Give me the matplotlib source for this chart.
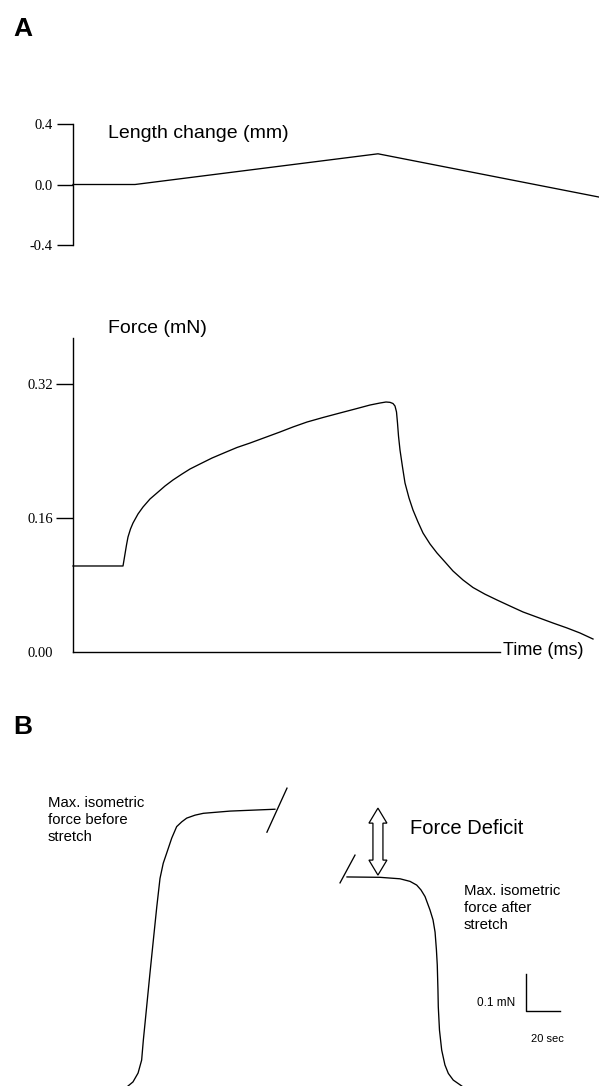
import numpy as np
import matplotlib.pyplot as plt
import matplotlib.patches as mpatches

# Panel A, top: length change (mm) vs time
len_t = [0, 62, 305, 526]
len_mm = [0.0, 0.0, 0.203, -0.083]
len_ticks = [-0.4, 0.0, 0.4]
len_ticklabels = ['-0.4', '0.0', '0.4']

# Panel A, bottom: force (mN) vs time
force_t = [0, 50, 51, 52, 53.5, 55, 57.5, 60, 65, 70, 77, 84, 92, 100, 109, 117,
           127, 139, 152, 164, 177, 192, 207, 220, 234, 250, 267, 282, 297, 307,
           313, 317, 320, 322, 323.5, 324.5, 325.5, 327, 329.5, 332, 336, 340,
           345, 350, 357, 364, 372, 380, 390, 400, 412, 424, 437, 450, 465, 480,
           494, 507, 520]
force_mn = [0.1027, 0.1027, 0.1098, 0.1170, 0.1278, 0.1373, 0.1469, 0.1540,
            0.1648, 0.1731, 0.1827, 0.1899, 0.1982, 0.2054, 0.2125, 0.2185,
            0.2245, 0.2316, 0.2382, 0.2442, 0.2495, 0.2561, 0.2627, 0.2687,
            0.2746, 0.2800, 0.2854, 0.2901, 0.2949, 0.2973, 0.2985, 0.2981,
            0.2967, 0.2937, 0.2866, 0.2734, 0.2579, 0.2412, 0.2209, 0.2018,
            0.1839, 0.1695, 0.1552, 0.1421, 0.1290, 0.1182, 0.1075, 0.0967,
            0.0860, 0.0770, 0.0690, 0.0621, 0.0549, 0.0478, 0.0412, 0.0346,
            0.0287, 0.0227, 0.0155]
force_ticks = [0.0, 0.16, 0.32]
force_ticklabels = ['0.00', '0.16', '0.32']

# Panel B: isometric force traces (sec, mN)
before_t = [1.2, 4.1, 7.1, 9.2, 10.2, 11.2, 14.1, 16.1, 18.1, 20.0, 21.9, 23.9,
            26.9, 29.8, 32.8, 35.7, 40.6, 45.5, 61.2, 87.6]
before_f = [0.0, 0.011, 0.035, 0.070, 0.124, 0.170, 0.305, 0.395, 0.484, 0.561,
            0.602, 0.629, 0.670, 0.701, 0.714, 0.724, 0.732, 0.737, 0.743, 0.748]
after_t = [130.0, 149.4, 161.2, 167.1, 171.0, 173.5, 175.9, 178.8, 180.6, 181.8,
           182.6, 183.1, 183.5, 183.7, 184.4, 185.7, 187.6, 189.6, 192.5, 197.5]
after_f = [0.565, 0.564, 0.560, 0.553, 0.543, 0.530, 0.512, 0.476, 0.449, 0.416,
           0.368, 0.327, 0.260, 0.214, 0.151, 0.097, 0.057, 0.034, 0.016, 0.0]
break_before_t = [82.9, 94.7]
break_before_f = [0.686, 0.805]
break_after_t = [125.9, 134.7]
break_after_f = [0.549, 0.624]
deficit_t = 148.2
deficit_f = [0.570, 0.751]
scale_t0, scale_f0 = 235.3, 0.203
scale_sec, scale_mn = 20, 0.1

W, H = 599, 1086
fig = plt.figure(figsize=(W / 100, H / 100), dpi=100)
sans = 'Liberation Sans'
serif = 'Liberation Serif'
lw = 0.95


def fx(px):
    return px / W


def fy(py):
    return 1 - py / H


# --- length change ---
ax1 = fig.add_axes([fx(73), fy(245), 526 / W, 121 / H])
ax1.plot(len_t, len_mm, color='black', lw=lw, clip_on=False)
ax1.set_xlim(0, 526)
ax1.set_ylim(-0.4, 0.4)
for s in ['top', 'right', 'bottom']:
    ax1.spines[s].set_visible(False)
ax1.spines['left'].set_linewidth(1.0)
ax1.set_xticks([])
ax1.set_yticks(len_ticks)
ax1.set_yticklabels(len_ticklabels, fontfamily=serif, fontsize=10.5)
ax1.tick_params(axis='y', length=11.5, width=1.0, direction='out', pad=3)
ax1.patch.set_visible(False)

# --- force ---
ymax = 0.16 * 314 / 134
ax2 = fig.add_axes([fx(73), fy(652), 526 / W, 314 / H])
ax2.plot(force_t, force_mn, color='black', lw=lw, clip_on=False)
ax2.set_xlim(0, 526)
ax2.set_ylim(0, ymax)
for s in ['top', 'right']:
    ax2.spines[s].set_visible(False)
ax2.spines['left'].set_linewidth(1.0)
ax2.spines['bottom'].set_linewidth(1.0)
ax2.spines['bottom'].set_bounds(0, 427)
ax2.set_xticks([])
ax2.set_yticks(force_ticks)
ax2.set_yticklabels(force_ticklabels, fontfamily=serif, fontsize=10.5)
ax2.tick_params(axis='y', length=12, width=1.0, direction='out', pad=2.5)
ax2.yaxis.get_major_ticks()[0].tick1line.set_visible(False)
ax2.patch.set_visible(False)

# --- panel B ---
ax3 = fig.add_axes([0, 0, 1, 326 / H])
ax3.set_xlim(-126 * 20 / 34, 473 * 20 / 34)
ax3.set_ylim(0, 326 * 0.1 / 37)
ax3.axis('off')
ax3.plot(before_t, before_f, color='black', lw=lw, clip_on=False)
ax3.plot(after_t, after_f, color='black', lw=lw, clip_on=False)
ax3.plot(break_before_t, break_before_f, color='black', lw=lw)
ax3.plot(break_after_t, break_after_f, color='black', lw=lw)
ax3.plot([scale_t0, scale_t0, scale_t0 + scale_sec],
         [scale_f0 + scale_mn, scale_f0, scale_f0], color='black', lw=1.0)

# hollow double arrow for the force deficit
hh, sh, hl = 9 * 20 / 34, 5 * 20 / 34, 15 * 0.1 / 37
cx, yb, yt = deficit_t, deficit_f[0], deficit_f[1]
verts = [(cx, yt), (cx - hh, yt - hl), (cx - sh, yt - hl), (cx - sh, yb + hl),
         (cx - hh, yb + hl), (cx, yb), (cx + hh, yb + hl), (cx + sh, yb + hl),
         (cx + sh, yt - hl), (cx + hh, yt - hl)]
ax3.add_patch(mpatches.Polygon(verts, closed=True, fc='white', ec='black', lw=0.9))

# --- text ---
fig.text(fx(13), fy(36), 'A', family=sans, fontsize=19, fontweight='bold', va='baseline')
fig.text(fx(13), fy(734), 'B', family=sans, fontsize=19, fontweight='bold', va='baseline')
fig.text(fx(108), fy(138), 'Length change (mm)', family=sans, fontsize=14, va='baseline')
fig.text(fx(108), fy(333), 'Force (mN)', family=sans, fontsize=14, va='baseline')
fig.text(fx(503), fy(655), 'Time (ms)', family=sans, fontsize=13, va='baseline')
fig.text(fx(410), fy(834), 'Force Deficit', family=sans, fontsize=14.5, va='baseline')
fig.text(fx(48), fy(796), 'Max. isometric\nforce before\nstretch', family=sans,
         fontsize=10.7, va='top', linespacing=1.28)
fig.text(fx(464), fy(884), 'Max. isometric\nforce after\nstretch', family=sans,
         fontsize=10.7, va='top', linespacing=1.28)
fig.text(fx(477), fy(1006), '0.1 mN', family=sans, fontsize=8.5, va='baseline')
fig.text(fx(531), fy(1042), '20 sec', family=sans, fontsize=8, va='baseline')

fig.savefig('out.png', dpi=100)
